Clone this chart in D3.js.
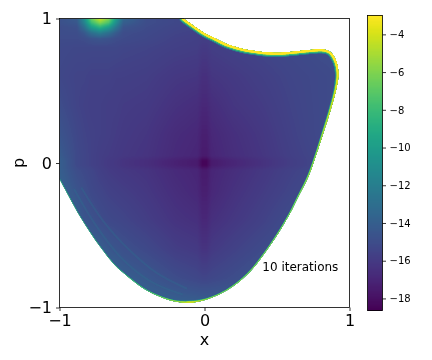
<!DOCTYPE html>
<html>
<head>
<meta charset="utf-8">
<script src="https://cdn.jsdelivr.net/npm/d3@7"></script>
<style>
  html, body { margin: 0; background: #fff; }
  #wrap { position: relative; width: 432px; height: 360px; overflow: hidden; }
  canvas, svg { position: absolute; left: 0; top: 0; }
  text { font-family: "DejaVu Sans", sans-serif; fill: #000; }
</style>
</head>
<body>
<div id="wrap"><canvas id="heat" width="432" height="360"></canvas><svg id="chart" width="432" height="360"></svg></div>
<script>
const gridX = [-1, -0.88, -0.83, -0.78, -0.72, -0.66, -0.61, -0.56, -0.4, -0.2, -0.05, -0.015, 0.015, 0.05, 0.2, 0.4, 0.6, 0.8, 1];
const gridP = [1, 0.97, 0.94, 0.9, 0.86, 0.8, 0.6, 0.4, 0.2, 0.05, 0.015, -0.015, -0.05, -0.2, -0.4, -0.6, -0.8, -1];
const gridValues = [
  [-14.8, -14.2, -11.0, -6.5, -4.2, -6.0, -10.0, -13.5, -15.0, -15.3, -15.4, -15.5, -15.5, -15.4, -15.3, -15.2, -15.0, -14.8, -14.8],
  [-14.8, -14.4, -11.8, -8.0, -6.0, -7.5, -11.0, -14.0, -15.0, -15.3, -15.4, -15.5, -15.5, -15.4, -15.3, -15.2, -15.0, -14.8, -14.8],
  [-15.0, -14.8, -13.0, -10.0, -8.5, -10.0, -12.5, -14.6, -15.1, -15.4, -15.5, -15.5, -15.5, -15.5, -15.4, -15.2, -15.0, -14.9, -14.8],
  [-15.0, -15.0, -14.4, -13.0, -12.0, -13.0, -14.2, -15.0, -15.2, -15.5, -15.6, -15.7, -15.7, -15.6, -15.5, -15.3, -15.1, -14.9, -14.8],
  [-15.1, -15.1, -15.0, -14.7, -14.5, -14.7, -15.0, -15.1, -15.3, -15.6, -15.7, -15.8, -15.8, -15.7, -15.6, -15.3, -15.1, -15.0, -14.9],
  [-15.2, -15.3, -15.3, -15.3, -15.3, -15.3, -15.3, -15.4, -15.5, -15.7, -15.8, -16.0, -16.0, -15.8, -15.6, -15.4, -15.2, -15.0, -15.0],
  [-15.3, -15.5, -15.5, -15.6, -15.6, -15.6, -15.7, -15.7, -15.8, -16.1, -16.2, -16.5, -16.5, -16.2, -16.0, -15.7, -15.4, -15.2, -15.0],
  [-15.0, -15.5, -15.6, -15.7, -15.7, -15.8, -15.8, -15.9, -16.0, -16.4, -16.6, -16.9, -16.9, -16.6, -16.2, -15.9, -15.5, -15.2, -15.0],
  [-14.6, -15.3, -15.5, -15.6, -15.7, -15.8, -15.9, -16.0, -16.2, -16.7, -16.9, -17.3, -17.3, -16.9, -16.5, -16.1, -15.6, -15.2, -15.0],
  [-14.2, -15.2, -15.4, -15.6, -15.8, -15.9, -16.0, -16.1, -16.3, -16.8, -17.0, -17.5, -17.5, -17.0, -16.6, -16.2, -15.7, -15.3, -15.0],
  [-14.0, -15.2, -15.4, -15.6, -15.8, -16.0, -16.1, -16.3, -16.6, -17.2, -17.5, -18.4, -18.4, -17.5, -17.0, -16.4, -15.8, -15.3, -15.0],
  [-14.0, -15.2, -15.4, -15.6, -15.8, -16.0, -16.1, -16.3, -16.6, -17.2, -17.5, -18.4, -18.4, -17.5, -17.0, -16.4, -15.8, -15.3, -15.0],
  [-14.0, -15.0, -15.2, -15.4, -15.7, -15.9, -16.0, -16.1, -16.3, -16.8, -17.0, -17.5, -17.5, -17.0, -16.6, -16.1, -15.6, -15.2, -15.0],
  [-13.7, -14.6, -14.9, -15.2, -15.4, -15.6, -15.7, -15.8, -16.1, -16.6, -16.9, -17.3, -17.3, -16.9, -16.4, -15.9, -15.4, -15.0, -15.0],
  [-13.5, -14.0, -14.5, -14.7, -15.0, -15.2, -15.3, -15.4, -15.8, -16.3, -16.5, -16.9, -16.9, -16.5, -16.1, -15.6, -15.0, -14.8, -14.8],
  [-13.5, -13.5, -13.5, -13.8, -14.0, -14.4, -14.6, -14.8, -15.2, -15.8, -16.0, -16.3, -16.3, -16.0, -15.6, -15.1, -14.6, -14.5, -14.5],
  [-13.5, -13.5, -13.5, -13.5, -13.5, -13.5, -13.6, -14.0, -14.4, -15.0, -15.3, -15.4, -15.4, -15.3, -15.0, -14.5, -14.2, -14.2, -14.2],
  [-13.5, -13.5, -13.5, -13.5, -13.5, -13.5, -13.5, -13.5, -13.5, -13.7, -13.8, -13.8, -13.8, -13.8, -13.8, -13.8, -13.8, -13.8, -13.8]
];

// outline of the filled region, going clockwise from the top edge, with the brightest value seen on it
const edgeX = [-0.145, -0.066, 0.003, 0.072, 0.141, 0.21, 0.279, 0.348, 0.417, 0.521, 0.61, 0.728, 0.817, 0.866, 0.9, 0.919, 0.923, 0.907, 0.87, 0.819, 0.774, 0.716, 0.647, 0.59, 0.509, 0.406, 0.314, 0.21, 0.107, 0.003, -0.102, -0.194, -0.298, -0.412, -0.528, -0.619, -0.712, -0.792, -0.872, -0.941, -1];
const edgeP = [1, 0.943, 0.897, 0.863, 0.828, 0.804, 0.786, 0.775, 0.766, 0.763, 0.77, 0.782, 0.786, 0.77, 0.724, 0.666, 0.597, 0.505, 0.367, 0.206, 0.067, -0.095, -0.233, -0.348, -0.486, -0.637, -0.752, -0.844, -0.907, -0.948, -0.967, -0.96, -0.929, -0.874, -0.787, -0.706, -0.59, -0.475, -0.348, -0.221, -0.111];
const edgeValue = [-3, -3, -3, -3, -3, -3, -3, -3, -3, -3, -3, -3, -3, -3, -3, -3.2, -3.5, -4, -4.5, -5, -5.5, -5.5, -6, -6, -6, -6, -6, -6, -6, -5.5, -4, -5.5, -6.5, -7.5, -8, -8.5, -9, -9, -9, -9, -9];

// faint streaks running along the lower left of the region
const streakX1 = [-0.9, -0.75, -0.58, -0.37, -0.15];
const streakP1 = [-0.18, -0.43, -0.65, -0.82, -0.91];
const streakX2 = [-0.85, -0.7, -0.52, -0.33, -0.12];
const streakP2 = [-0.17, -0.4, -0.6, -0.76, -0.87];
const streakValue = -12.8;

const axisTicks = [-1, 0, 1];
const colorTicks = [-18, -16, -14, -12, -10, -8, -6, -4];
const colorDomain = [-18.64, -3];

const x = d3.scaleLinear().domain([-1, 1]).range([59.5, 349.5]);
const y = d3.scaleLinear().domain([-1, 1]).range([307.5, 18.5]);
const colorY = d3.scaleLinear().domain(colorDomain).range([310.5, 15.5]);
const color = d3.scaleSequential(d3.interpolateViridis).domain(colorDomain);
const edgeWidth = d3.scaleLinear().domain([-9, -6, -4, -3]).range([0.4, 1.2, 2.5, 4]);

const columnAt = d3.scaleLinear().domain(gridX).range(d3.range(gridX.length)).clamp(true);
const rowAt = d3.scaleLinear().domain(gridP).range(d3.range(gridP.length)).clamp(true);

function valueAt(px, pp) {
  const c = columnAt(px), r = rowAt(pp);
  const c0 = Math.min(Math.floor(c), gridX.length - 2), r0 = Math.min(Math.floor(r), gridP.length - 2);
  const top = d3.interpolateNumber(gridValues[r0][c0], gridValues[r0][c0 + 1])(c - c0);
  const bottom = d3.interpolateNumber(gridValues[r0 + 1][c0], gridValues[r0 + 1][c0 + 1])(c - c0);
  return d3.interpolateNumber(top, bottom)(r - r0);
}

// Heatmap
const ctx = document.getElementById('heat').getContext('2d');
const edgePoints = edgeX.map((d, i) => [x(d), y(edgeP[i])]);
const curve = d3.line().curve(d3.curveCatmullRom);
const edgePath = curve(edgePoints);

ctx.save();
ctx.beginPath();
ctx.rect(x(-1), y(1), x(1) - x(-1), y(-1) - y(1));
ctx.clip();
ctx.clip(new Path2D(edgePath + `L${x(-1)},${y(1)}Z`));
for (let py = Math.floor(y(1)); py < y(-1); py++) {
  for (let px = Math.floor(x(-1)); px < x(1); px++) {
    ctx.fillStyle = color(valueAt(x.invert(px + 0.5), y.invert(py + 0.5)));
    ctx.fillRect(px, py, 1, 1);
  }
}

ctx.globalAlpha = 0.3;
ctx.strokeStyle = color(streakValue);
ctx.lineWidth = 2;
ctx.stroke(new Path2D(curve(streakX1.map((d, i) => [x(d), y(streakP1[i])]))));
ctx.stroke(new Path2D(curve(streakX2.map((d, i) => [x(d), y(streakP2[i])]))));
ctx.globalAlpha = 1;

// Walk along the outline so the glow can change width and colour smoothly
const walker = document.createElementNS('http://www.w3.org/2000/svg', 'path');
walker.setAttribute('d', edgePath);
const walkLength = walker.getTotalLength();
let chord = 0;
const chords = edgePoints.map((d, i) => {
  if (i > 0) chord += Math.hypot(d[0] - edgePoints[i - 1][0], d[1] - edgePoints[i - 1][1]);
  return chord;
});
const valueAlong = d3.scaleLinear().domain(chords.map(d => d / chord * walkLength)).range(edgeValue);

ctx.lineCap = 'round';
// wide dim pass first, then brighter and narrower
[[2, () => color(-12)], [1.5, () => color(-8)], [1, d => color(d)]].forEach(([factor, stroke]) => {
  for (let s = 0; s < walkLength; s += 1) {
    const a = walker.getPointAtLength(s), b = walker.getPointAtLength(s + 1);
    const v = valueAlong(s);
    ctx.beginPath();
    ctx.moveTo(a.x, a.y);
    ctx.lineTo(b.x, b.y);
    ctx.strokeStyle = stroke(v);
    ctx.lineWidth = edgeWidth(v) * factor;
    ctx.stroke();
  }
});
ctx.restore();

// Colorbar
for (let py = Math.floor(colorY(colorDomain[1])); py < colorY(colorDomain[0]); py++) {
  ctx.fillStyle = color(colorY.invert(py + 0.5));
  ctx.fillRect(367.5, py, 15, 1);
}

const svg = d3.select('#chart');

// Axes
const frame = svg.append('g');
frame.append('rect')
  .attr('x', x(-1)).attr('y', y(1))
  .attr('width', x(1) - x(-1)).attr('height', y(-1) - y(1))
  .attr('fill', 'none').attr('stroke', '#000').attr('stroke-width', 0.8);

const xAxis = svg.append('g')
  .attr('transform', `translate(0,${y(-1)})`)
  .call(d3.axisBottom(x).tickValues(axisTicks).tickFormat(d3.format('d')).tickSize(3.5).tickPadding(4));
const yAxis = svg.append('g')
  .attr('transform', `translate(${x(-1)},0)`)
  .call(d3.axisLeft(y).tickValues(axisTicks).tickFormat(d3.format('d')).tickSize(3.5).tickPadding(4));
[xAxis, yAxis].forEach(a => {
  a.select('.domain').remove();
  a.attr('font-family', null).attr('font-size', null);
  a.selectAll('.tick line').attr('stroke', '#000').attr('stroke-width', 0.8);
  a.selectAll('.tick text').style('font-size', '16px').style('fill', '#000');
});

svg.append('text')
  .attr('x', x(0)).attr('y', 345)
  .attr('text-anchor', 'middle').style('font-size', '16px')
  .text('x');
svg.append('text')
  .attr('transform', `translate(24,${y(0)}) rotate(-90)`)
  .attr('text-anchor', 'middle').style('font-size', '16px')
  .text('p');

svg.append('text')
  .attr('x', x(0.923)).attr('y', y(-0.747))
  .attr('text-anchor', 'end').style('font-size', '12px')
  .text('10 iterations');

// Colorbar frame and ticks
svg.append('rect')
  .attr('x', 367.5).attr('y', colorY(colorDomain[1]))
  .attr('width', 15).attr('height', colorY(colorDomain[0]) - colorY(colorDomain[1]))
  .attr('fill', 'none').attr('stroke', '#000').attr('stroke-width', 0.8);

const colorAxis = svg.append('g')
  .attr('transform', 'translate(382.5,0)')
  .call(d3.axisRight(colorY).tickValues(colorTicks).tickFormat(d3.format('d')).tickSize(3.5).tickPadding(3.5));
colorAxis.select('.domain').remove();
colorAxis.attr('font-family', null).attr('font-size', null);
colorAxis.selectAll('.tick line').attr('stroke', '#000').attr('stroke-width', 0.8);
colorAxis.selectAll('.tick text').style('font-size', '10px').style('fill', '#000');
</script>
</body>
</html>
